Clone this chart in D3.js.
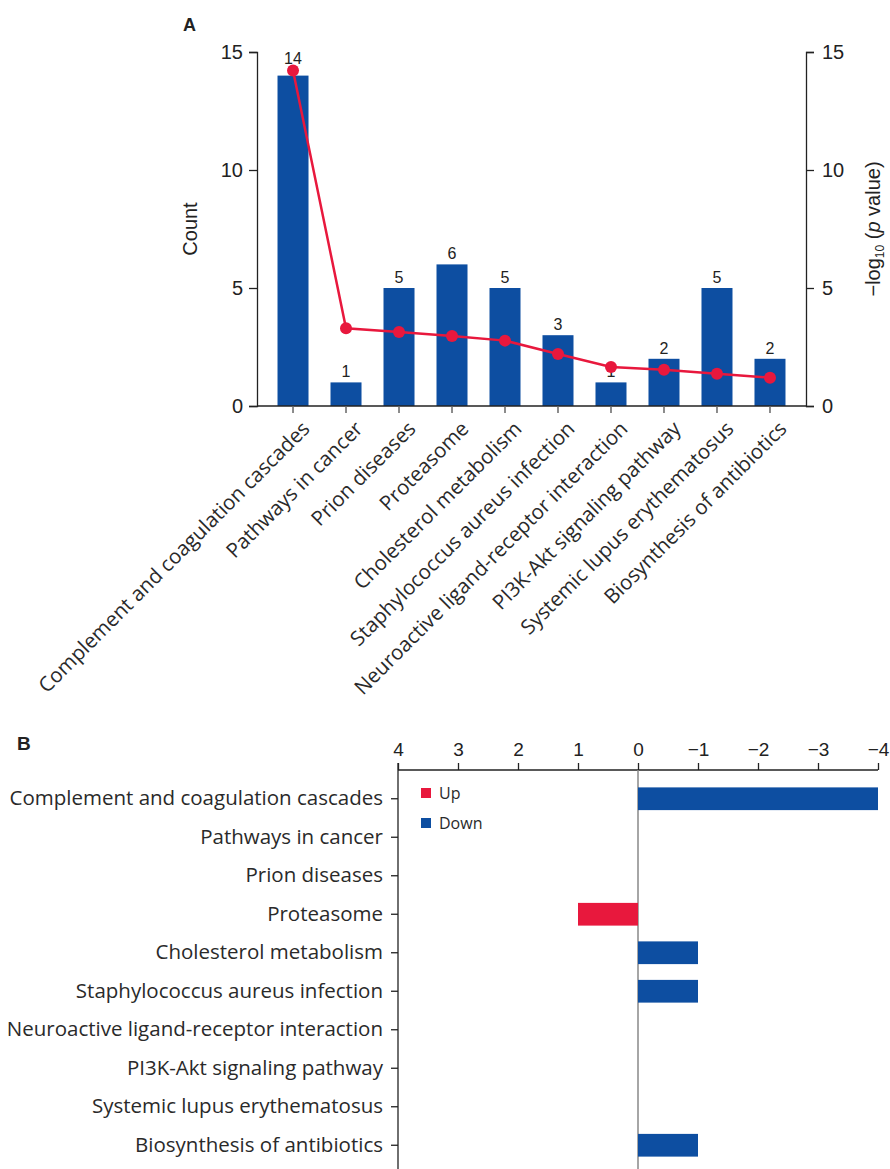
<!DOCTYPE html>
<html>
<head>
<meta charset="utf-8">
<script src="https://cdn.jsdelivr.net/npm/d3@7"></script>
<style>
  body { margin: 0; background: #fff; }
  svg { display: block; }
  .num { font-family: "Liberation Sans", Arial, sans-serif; fill: #222; }
  .cat { font-family: "Open Sans", "Noto Sans", sans-serif; fill: #2a2a2a; }
</style>
</head>
<body>
<svg id="chart" width="890" height="1169"></svg>
<script>
// pathway names (same order in both panels)
const pathways = [
  "Complement and coagulation cascades",
  "Pathways in cancer",
  "Prion diseases",
  "Proteasome",
  "Cholesterol metabolism",
  "Staphylococcus aureus infection",
  "Neuroactive ligand-receptor interaction",
  "PI3K-Akt signaling pathway",
  "Systemic lupus erythematosus",
  "Biosynthesis of antibiotics"
];
// panel A
const counts = [14, 1, 5, 6, 5, 3, 1, 2, 5, 2];
const negLogP = [14.22, 3.29, 3.14, 2.97, 2.77, 2.2, 1.65, 1.54, 1.37, 1.2];
const yTicksA = [0, 5, 10, 15];
// panel B
const upCounts = [0, 0, 0, 1, 0, 0, 0, 0, 0, 0];
const downCounts = [4, 0, 0, 0, 1, 1, 0, 0, 0, 1];
const xTicksB = [4, 3, 2, 1, 0, -1, -2, -3, -4];

const BLUE = "#0d4ea1";
const RED = "#e8183d";
const CAT_SIZE = 20.5;

const svg = d3.select("#chart");

// ---------- Panel A ----------
const a = { left: 257, right: 806, top: 52, bottom: 406 };

const xA = d3.scaleBand()
  .domain(pathways)
  .range([a.left, a.right])
  .paddingInner(0.415)
  .paddingOuter(0.387);
const cx = i => xA(pathways[i]) + xA.bandwidth() / 2;

const yCount = d3.scaleLinear().domain([0, 15]).range([a.bottom, a.top]);
const yP = d3.scaleLinear().domain([0, 15]).range([a.bottom, a.top]);

const gA = svg.append("g");

// bars
gA.append("g")
  .selectAll("rect")
  .data(counts)
  .join("rect")
  .attr("x", (d, i) => xA(pathways[i]))
  .attr("y", d => yCount(d))
  .attr("width", xA.bandwidth())
  .attr("height", d => yCount(0) - yCount(d))
  .attr("fill", BLUE);

// count labels (lifted above the marker when it sits right on the bar top)
function labelY(d, i) {
  const base = yCount(d) - 5;
  const m = yP(negLogP[i]);
  return Math.abs(m - base) < 8 ? Math.min(base, m - 6) : base;
}
gA.append("g")
  .selectAll("text")
  .data(counts)
  .join("text")
  .attr("class", "num")
  .attr("x", (d, i) => cx(i))
  .attr("y", labelY)
  .attr("text-anchor", "middle")
  .attr("font-size", 16)
  .text(d => d);

// left axis
const axisL = gA.append("g")
  .attr("transform", `translate(${a.left},0)`)
  .call(d3.axisLeft(yCount).tickValues(yTicksA).tickSize(8).tickPadding(6));
axisL.select(".domain").attr("stroke", "#222").attr("stroke-width", 1.3);
axisL.selectAll(".tick line").attr("stroke", "#222").attr("stroke-width", 1.3);
axisL.selectAll(".tick text").attr("class", "num").attr("font-size", 20);

// right axis
const axisR = gA.append("g")
  .attr("transform", `translate(${a.right},0)`)
  .call(d3.axisRight(yP).tickValues(yTicksA).tickSize(8).tickPadding(8));
axisR.select(".domain").attr("stroke", "#222").attr("stroke-width", 1.3);
axisR.selectAll(".tick line").attr("stroke", "#222").attr("stroke-width", 1.3);
axisR.selectAll(".tick text").attr("class", "num").attr("font-size", 20);

// bottom axis
const axisB = gA.append("g")
  .attr("transform", `translate(0,${a.bottom})`)
  .call(d3.axisBottom(xA).tickSize(7).tickFormat(""));
axisB.select(".domain").attr("stroke", "#222").attr("stroke-width", 1.3)
  .attr("d", `M${a.left},0H${a.right}`);
axisB.selectAll(".tick line").attr("stroke", "#666").attr("stroke-width", 1.5);

// rotated category labels
gA.append("g")
  .selectAll("text")
  .data(pathways)
  .join("text")
  .attr("class", "cat")
  .attr("font-size", CAT_SIZE)
  .attr("text-anchor", "end")
  .attr("transform", (d, i) => `translate(${cx(i) + 18},430) rotate(-45)`)
  .text(d => d);

// p-value line
const line = d3.line()
  .x((d, i) => cx(i))
  .y(d => yP(d));

gA.append("path")
  .datum(negLogP)
  .attr("d", line)
  .attr("fill", "none")
  .attr("stroke", RED)
  .attr("stroke-width", 2.5);

gA.append("g")
  .selectAll("circle")
  .data(negLogP)
  .join("circle")
  .attr("cx", (d, i) => cx(i))
  .attr("cy", d => yP(d))
  .attr("r", 6)
  .attr("fill", RED);

// axis titles
gA.append("text")
  .attr("class", "num")
  .attr("font-size", 20)
  .attr("text-anchor", "middle")
  .attr("transform", `translate(197,${(a.top + a.bottom) / 2}) rotate(-90)`)
  .text("Count");

const pTitle = gA.append("text")
  .attr("class", "num")
  .attr("font-size", 20)
  .attr("text-anchor", "middle")
  .attr("transform", `translate(880,${(a.top + a.bottom) / 2}) rotate(-90)`);
pTitle.append("tspan").text("\u2212log");
pTitle.append("tspan").attr("font-size", 12).attr("dy", 4).text("10");
pTitle.append("tspan").attr("dy", -4).text(" (");
pTitle.append("tspan").attr("font-style", "italic").text("p");
pTitle.append("tspan").text(" value)");

gA.append("text")
  .attr("x", 183).attr("y", 31)
  .attr("font-family", "Liberation Sans, Arial, sans-serif")
  .attr("font-weight", "bold")
  .attr("font-size", 18)
  .attr("fill", "#222")
  .text("A");

// ---------- Panel B ----------
const b = { left: 398, right: 878, top: 770, bottom: 1169 };

const xB = d3.scaleLinear().domain([4, -4]).range([b.left, b.right]);
const yB = d3.scaleBand()
  .domain(pathways)
  .range([779.5, 1164.5])
  .paddingInner(0.41)
  .paddingOuter(0.205);

const gB = svg.append("g");

// top axis
const axisT = gB.append("g")
  .attr("transform", `translate(0,${b.top})`)
  .call(d3.axisTop(xB).tickValues(xTicksB).tickSize(7).tickPadding(7)
    .tickFormat(d => d < 0 ? "\u2212" + Math.abs(d) : d));
axisT.select(".domain").attr("stroke", "#222").attr("stroke-width", 1.3)
  .attr("d", `M${b.left},0H${b.right}`);
axisT.selectAll(".tick line").attr("stroke", "#222").attr("stroke-width", 1.3);
axisT.selectAll(".tick text").attr("class", "num").attr("font-size", 19);

// left axis
const axisLB = gB.append("g")
  .attr("transform", `translate(${b.left},0)`)
  .call(d3.axisLeft(yB).tickSize(7).tickPadding(8));
axisLB.select(".domain").attr("stroke", "#222").attr("stroke-width", 1.3)
  .attr("d", `M0,${b.top - 7}V${b.bottom}`);
axisLB.selectAll(".tick line").attr("stroke", "#222").attr("stroke-width", 1.3);
axisLB.selectAll(".tick text").attr("class", "cat").attr("font-size", CAT_SIZE);

// zero line
gB.append("line")
  .attr("x1", xB(0)).attr("x2", xB(0))
  .attr("y1", b.top).attr("y2", b.bottom)
  .attr("stroke", "#888").attr("stroke-width", 1.5);

// up bars
gB.append("g")
  .selectAll("rect")
  .data(upCounts)
  .join("rect")
  .attr("x", d => xB(d))
  .attr("y", (d, i) => yB(pathways[i]))
  .attr("width", d => xB(0) - xB(d))
  .attr("height", yB.bandwidth())
  .attr("fill", RED);

// down bars
gB.append("g")
  .selectAll("rect")
  .data(downCounts)
  .join("rect")
  .attr("x", xB(0))
  .attr("y", (d, i) => yB(pathways[i]))
  .attr("width", d => xB(-d) - xB(0))
  .attr("height", yB.bandwidth())
  .attr("fill", BLUE);

// legend
const legendItems = [["Up", RED], ["Down", BLUE]];
const lg = gB.append("g").attr("transform", "translate(421,788)");
legendItems.forEach(([name, color], i) => {
  lg.append("rect").attr("x", 0).attr("y", i * 30).attr("width", 10).attr("height", 10).attr("fill", color);
  lg.append("text").attr("class", "cat").attr("font-size", 16)
    .attr("x", 18).attr("y", i * 30 + 11).text(name);
});

gB.append("text")
  .attr("x", 17).attr("y", 750)
  .attr("font-family", "Liberation Sans, Arial, sans-serif")
  .attr("font-weight", "bold")
  .attr("font-size", 19)
  .attr("fill", "#222")
  .text("B");
</script>
</body>
</html>
